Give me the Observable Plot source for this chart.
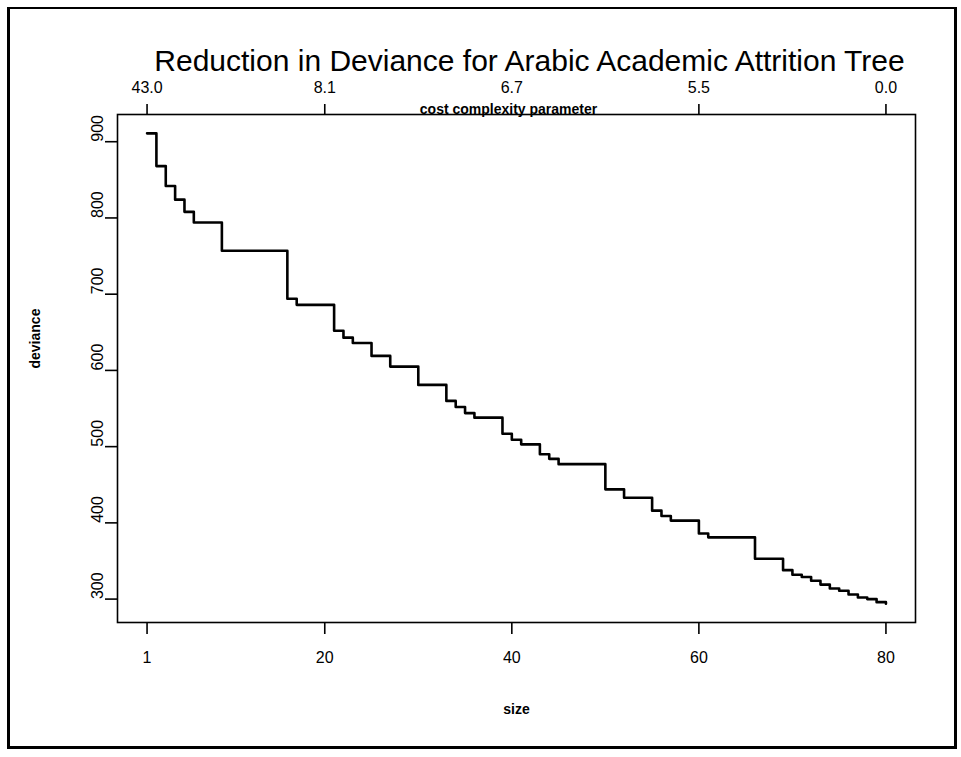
<!DOCTYPE html>
<html><head><meta charset="utf-8">
<script src="https://cdn.jsdelivr.net/npm/d3@7"></script>
<script src="https://cdn.jsdelivr.net/npm/@observablehq/plot@0.6"></script>
<style>
body{margin:0;background:#fff;}
#wrap{position:relative;width:961px;height:757px;overflow:hidden;background:#fff;}
#frame{position:absolute;left:7px;top:7px;width:944px;height:737px;border:3px solid #000;border-top-width:2px;pointer-events:none;}
#wrap svg{position:absolute;left:0;top:0;}
</style></head><body><div id="wrap"><div id="frame"></div></div>
<script>
// Tree sequence: size (number of terminal nodes) and deviance
const sizes = [1,2,3,4,5,6,9,16,17,21,22,23,25,27,30,33,34,35,36,39,40,41,43,44,45,50,52,55,56,57,60,61,66,69,70,71,72,73,74,75,76,77,78,79,80];
const deviance = [911,868,842,824,808,794,757,694,686,652,643,636,619,605,581,560,552,544,538,517,509,503,490,484,477,444,433,416,409,403,386,381,353,338,332,329,324,319,314,311,306,302,300,296,294];

const bottomTicks = [1,20,40,60,80];
const topTickPositions = [1,20,40,60,80];
const topTickLabels = ["43.0","8.1","6.7","5.5","0.0"];
const topTickMarks = [1,20,60,80];
const yTicks = [300,400,500,600,700,800,900];
const title = "Reduction in Deviance for Arabic Academic Attrition Tree";
const xLabel = "size";
const yLabel = "deviance";
const topLabel = "cost complexity parameter";

const data = sizes.map((s, i) => ({size: s, deviance: deviance[i]}));
const font = "'Liberation Sans', Arial, Helvetica, sans-serif";

const chart = Plot.plot({
  width: 961, height: 757,
  marginLeft: 117, marginRight: 46, marginTop: 114, marginBottom: 135,
  style: {fontFamily: font, fontSize: "16px", color: "#000", background: "transparent", overflow: "visible"},
  x: {domain: [-2.16, 83.16]},
  y: {domain: [269.3, 935.7]},
  marks: [
    Plot.frame({stroke: "#000", strokeWidth: 1.6}),
    Plot.axisX({anchor: "bottom", ticks: bottomTicks, tickSize: 12, tickFormat: () => "", label: null, strokeWidth: 1.6}),
    Plot.axisX({anchor: "top", ticks: topTickMarks, tickSize: 11, tickFormat: () => "", label: null, strokeWidth: 1.6}),
    Plot.axisY({anchor: "left", ticks: yTicks, tickSize: 12, tickFormat: () => "", label: null, strokeWidth: 1.6}),
    Plot.text(bottomTicks, {x: d => d, frameAnchor: "bottom", dy: 40, text: d => String(d), fontSize: 16}),
    Plot.text(topTickPositions, {x: d => d, frameAnchor: "top", dy: -33, text: (d, i) => topTickLabels[i], fontSize: 16}),
    Plot.text(yTicks, {y: d => d, frameAnchor: "left", dx: -20, rotate: -90, text: d => String(d), fontSize: 16}),
    Plot.text([xLabel], {frameAnchor: "bottom", dy: 91, fontSize: 14, fontWeight: "bold"}),
    Plot.text([yLabel], {frameAnchor: "left", dx: -82, rotate: -90, fontSize: 14, fontWeight: "bold"}),
    Plot.text([topLabel], {frameAnchor: "top", dx: -8, dy: -10, fontSize: 14, fontWeight: "bold"}),
    Plot.text([title], {frameAnchor: "top", dx: 13, dy: -65, fontSize: 30}),
    Plot.line(data, {x: "size", y: "deviance", curve: "step-after", stroke: "#000", strokeWidth: 2.6})
  ]
});
document.getElementById("wrap").prepend(chart);
</script>
</body></html>
